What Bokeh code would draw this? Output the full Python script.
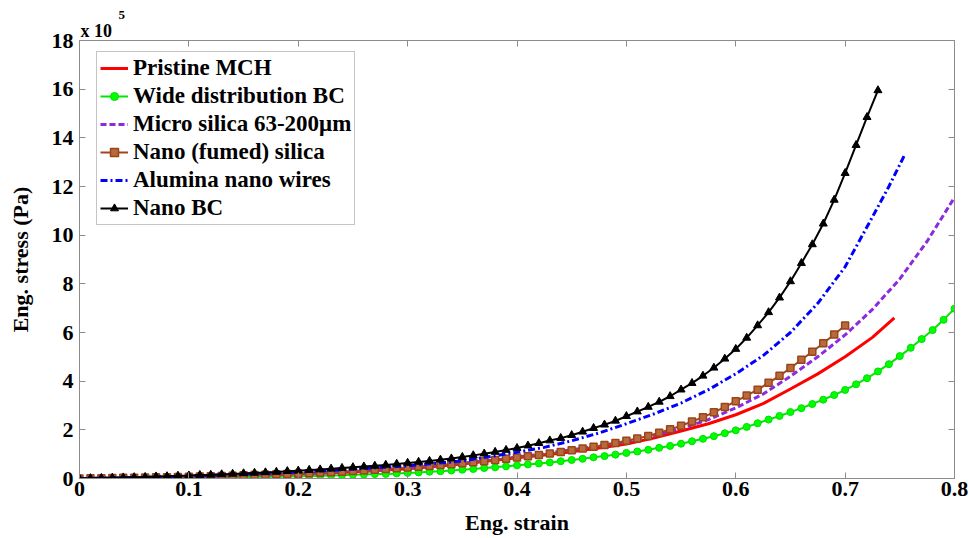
from bokeh.plotting import figure
from bokeh.models import (Range1d, LinearAxis, FixedTicker, CustomJSTickFormatter,
                          Title)
from bokeh.embed import file_html
from bokeh.resources import INLINE

# ---------------- data (stress in units of 1e5 Pa) ----------------
STRAIN = [0.00, 0.01, 0.02, 0.03, 0.04, 0.05, 0.06, 0.07, 0.08, 0.09,
          0.10, 0.11, 0.12, 0.13, 0.14, 0.15, 0.16, 0.17, 0.18, 0.19,
          0.20, 0.21, 0.22, 0.23, 0.24, 0.25, 0.26, 0.27, 0.28, 0.29,
          0.30, 0.31, 0.32, 0.33, 0.34, 0.35, 0.36, 0.37, 0.38, 0.39,
          0.40, 0.41, 0.42, 0.43, 0.44, 0.45, 0.46, 0.47, 0.48, 0.49,
          0.50, 0.51, 0.52, 0.53, 0.54, 0.55, 0.56, 0.57, 0.58, 0.59,
          0.60, 0.61, 0.62, 0.63, 0.64, 0.65, 0.66, 0.67, 0.68, 0.69,
          0.70, 0.71, 0.72, 0.73, 0.74, 0.75, 0.76, 0.77, 0.78, 0.79,
          0.80]

nano_bc = [0.00, 0.01, 0.02, 0.03, 0.04, 0.05, 0.06, 0.08, 0.09, 0.11,
           0.12, 0.14, 0.15, 0.17, 0.19, 0.21, 0.23, 0.25, 0.27, 0.30,
           0.32, 0.35, 0.37, 0.40, 0.43, 0.46, 0.49, 0.52, 0.56, 0.60,
           0.64, 0.68, 0.72, 0.77, 0.82, 0.88, 0.95, 1.02, 1.09, 1.17,
           1.25, 1.35, 1.45, 1.56, 1.66, 1.78, 1.92, 2.07, 2.21, 2.37,
           2.56, 2.75, 2.94, 3.15, 3.38, 3.65, 3.92, 4.22, 4.55, 4.92,
           5.32, 5.78, 6.29, 6.83, 7.43, 8.10, 8.85, 9.62, 10.47, 11.45,
           12.55, 13.70, 14.85, 15.95]

wide_bc = [0.00, 0.00, 0.00, 0.01, 0.01, 0.01, 0.01, 0.02, 0.02, 0.02,
           0.03, 0.03, 0.04, 0.04, 0.05, 0.05, 0.06, 0.07, 0.07, 0.08,
           0.09, 0.10, 0.11, 0.12, 0.13, 0.15, 0.16, 0.18, 0.19, 0.21,
           0.23, 0.25, 0.28, 0.30, 0.33, 0.36, 0.39, 0.43, 0.46, 0.50,
           0.54, 0.58, 0.62, 0.66, 0.71, 0.76, 0.81, 0.87, 0.92, 0.98,
           1.05, 1.11, 1.18, 1.26, 1.34, 1.43, 1.53, 1.63, 1.74, 1.86,
           1.98, 2.12, 2.27, 2.42, 2.57, 2.73, 2.89, 3.06, 3.24, 3.43,
           3.64, 3.87, 4.12, 4.40, 4.70, 5.03, 5.37, 5.73, 6.10, 6.52,
           6.98]

fumed_silica = [0.00, 0.01, 0.01, 0.02, 0.03, 0.03, 0.04, 0.05, 0.05, 0.06,
                0.07, 0.08, 0.09, 0.10, 0.11, 0.13, 0.14, 0.15, 0.17, 0.18,
                0.20, 0.22, 0.24, 0.26, 0.28, 0.31, 0.33, 0.36, 0.39, 0.42,
                0.45, 0.48, 0.51, 0.55, 0.59, 0.63, 0.67, 0.71, 0.76, 0.81,
                0.86, 0.91, 0.97, 1.03, 1.09, 1.16, 1.23, 1.30, 1.38, 1.46,
                1.55, 1.64, 1.75, 1.88, 2.02, 2.17, 2.34, 2.52, 2.72, 2.94,
                3.17, 3.41, 3.65, 3.93, 4.22, 4.54, 4.88, 5.21, 5.56, 5.92,
                6.29]

pristine_x = [0.0, 0.05, 0.1, 0.15, 0.2, 0.25, 0.3, 0.35, 0.4, 0.425, 0.45, 0.475,
              0.5, 0.525, 0.55, 0.575, 0.6, 0.625, 0.65, 0.675, 0.7, 0.725, 0.745]
pristine_y = [0.0, 0.03, 0.07, 0.12, 0.18, 0.27, 0.40, 0.60, 0.85, 0.97, 1.10, 1.25,
              1.42, 1.66, 1.95, 2.25, 2.62, 3.08, 3.68, 4.30, 5.00, 5.80, 6.60]

micro_x = [0.0, 0.05, 0.1, 0.15, 0.2, 0.25, 0.3, 0.35, 0.4, 0.425, 0.45, 0.475,
           0.5, 0.525, 0.55, 0.575, 0.6, 0.625, 0.65, 0.675, 0.7, 0.725, 0.75,
           0.775, 0.8]
micro_y = [0.0, 0.03, 0.07, 0.12, 0.19, 0.28, 0.42, 0.62, 0.88, 1.02, 1.18, 1.34,
           1.52, 1.76, 2.05, 2.42, 2.90, 3.47, 4.20, 5.00, 5.90, 6.95, 8.20,
           9.75, 11.55]

alumina_x = [0.0, 0.05, 0.1, 0.15, 0.2, 0.25, 0.3, 0.35, 0.4, 0.425, 0.45, 0.475,
             0.5, 0.525, 0.55, 0.575, 0.6, 0.625, 0.65, 0.675, 0.7, 0.725, 0.74, 0.755]
alumina_y = [0.0, 0.04, 0.10, 0.18, 0.27, 0.38, 0.52, 0.72, 1.08, 1.28, 1.55, 1.87,
             2.25, 2.65, 3.10, 3.65, 4.30, 5.05, 6.00, 7.20, 8.70, 10.75, 12.00, 13.35]

X_TICKS = [0.0, 0.1, 0.2, 0.3, 0.4, 0.5, 0.6, 0.7, 0.8]
Y_TICKS = [0, 2, 4, 6, 8, 10, 12, 14, 16, 18]

FONT = "Liberation Serif"
GRAY = "#8c8c8c"

p = figure(width=969, height=538, output_backend="svg", toolbar_location=None,
           x_range=Range1d(0, 0.8), y_range=Range1d(0, 18),
           min_border_left=79, min_border_right=15, min_border_top=40,
           min_border_bottom=60, background_fill_color="white",
           border_fill_color="white", outline_line_color=GRAY)
p.grid.visible = False

xfmt = CustomJSTickFormatter(code="return Math.abs(tick) < 1e-9 ? '0' : tick.toFixed(1);")
yfmt = CustomJSTickFormatter(code="return tick.toFixed(0);")

for ax in (p.xaxis[0], p.yaxis[0]):
    ax.major_tick_in = 6
    ax.major_tick_out = 0
    ax.minor_tick_in = 0
    ax.minor_tick_out = 0
    ax.axis_line_color = GRAY
    ax.major_tick_line_color = GRAY
    ax.major_label_text_font = FONT
    ax.major_label_text_font_style = "bold"
    ax.major_label_text_font_size = "22px"
    ax.major_label_text_color = "black"
    ax.axis_label_text_font = FONT
    ax.axis_label_text_font_style = "bold"
    ax.axis_label_text_font_size = "22px"
    ax.axis_label_text_color = "black"

p.xaxis[0].ticker = FixedTicker(ticks=X_TICKS)
p.xaxis[0].formatter = xfmt
p.xaxis[0].axis_label = "Eng. strain"
p.xaxis[0].major_label_standoff = 3
p.xaxis[0].axis_label_standoff = 11

p.yaxis[0].ticker = FixedTicker(ticks=Y_TICKS)
p.yaxis[0].formatter = yfmt
p.yaxis[0].axis_label = "Eng. stress (Pa)"
p.yaxis[0].major_label_standoff = 6
p.yaxis[0].axis_label_standoff = 16

# mirror ticks on top and right (no labels)
top = LinearAxis(ticker=FixedTicker(ticks=X_TICKS), major_label_text_font_size="0px",
                 major_label_text_color=None, major_label_standoff=0,
                 major_tick_in=6, major_tick_out=0, minor_tick_in=0, minor_tick_out=0,
                 axis_line_color=GRAY, major_tick_line_color=GRAY)
right = LinearAxis(ticker=FixedTicker(ticks=Y_TICKS), major_label_text_font_size="0px",
                   major_label_text_color=None, major_label_standoff=0,
                   major_tick_in=6, major_tick_out=0, minor_tick_in=0, minor_tick_out=0,
                   axis_line_color=GRAY, major_tick_line_color=GRAY)
p.add_layout(top, "above")
p.add_layout(right, "right")

# "x 10^5" multiplier above the y axis
p.title.text = "5"
p.title.align = "left"
p.title.offset = 39
p.title.standoff = 0
p.title.text_font = FONT
p.title.text_font_style = "bold"
p.title.text_font_size = "13px"
p.title.text_color = "black"
p.add_layout(Title(text="x 10", align="left", offset=1, standoff=0, text_font=FONT,
                   text_font_style="bold", text_font_size="18px", text_color="black"),
             "above")

# ---------------- series ----------------
p.line(pristine_x, pristine_y, line_color="#ff0000", line_width=3,
       legend_label="Pristine MCH")

p.line(STRAIN[:len(wide_bc)], wide_bc, line_color="#00e600", line_width=2,
       legend_label="Wide distribution BC")
p.scatter(STRAIN[:len(wide_bc)], wide_bc, marker="circle", size=7,
          fill_color="#00ff00", line_color="#00dd00", legend_label="Wide distribution BC")

p.line(micro_x, micro_y, line_color="#8a2be2", line_width=3, line_dash="6 3",
       legend_label="Micro silica 63-200\u03bcm")

p.line(STRAIN[:len(fumed_silica)], fumed_silica, line_color="#a0471c", line_width=2,
       legend_label="Nano (fumed) silica")
p.scatter(STRAIN[:len(fumed_silica)], fumed_silica, marker="square", size=7,
          fill_color="#b86a3c", line_color="#9a4418", line_width=1.5,
          legend_label="Nano (fumed) silica")

p.line(alumina_x, alumina_y, line_color="#0000ff", line_width=3, line_dash="7 3 2 3",
       legend_label="Alumina nano wires")

p.line(STRAIN[:len(nano_bc)], nano_bc, line_color="black", line_width=2,
       legend_label="Nano BC")
p.scatter(STRAIN[:len(nano_bc)], nano_bc, marker="triangle", size=8,
          fill_color="black", line_color="black", legend_label="Nano BC")

lg = p.legend[0]
lg.location = (17, 253)
lg.padding = 3
lg.spacing = 2
lg.label_standoff = 5
lg.glyph_width = 28
lg.glyph_height = 20
lg.label_height = 22
lg.label_text_font = FONT
lg.label_text_font_style = "bold"
lg.label_text_font_size = "23px"
lg.label_text_color = "black"
lg.border_line_color = GRAY
lg.border_line_width = 1
lg.background_fill_color = "white"
lg.background_fill_alpha = 1.0

open("out.html", "w").write(file_html(p, INLINE))
